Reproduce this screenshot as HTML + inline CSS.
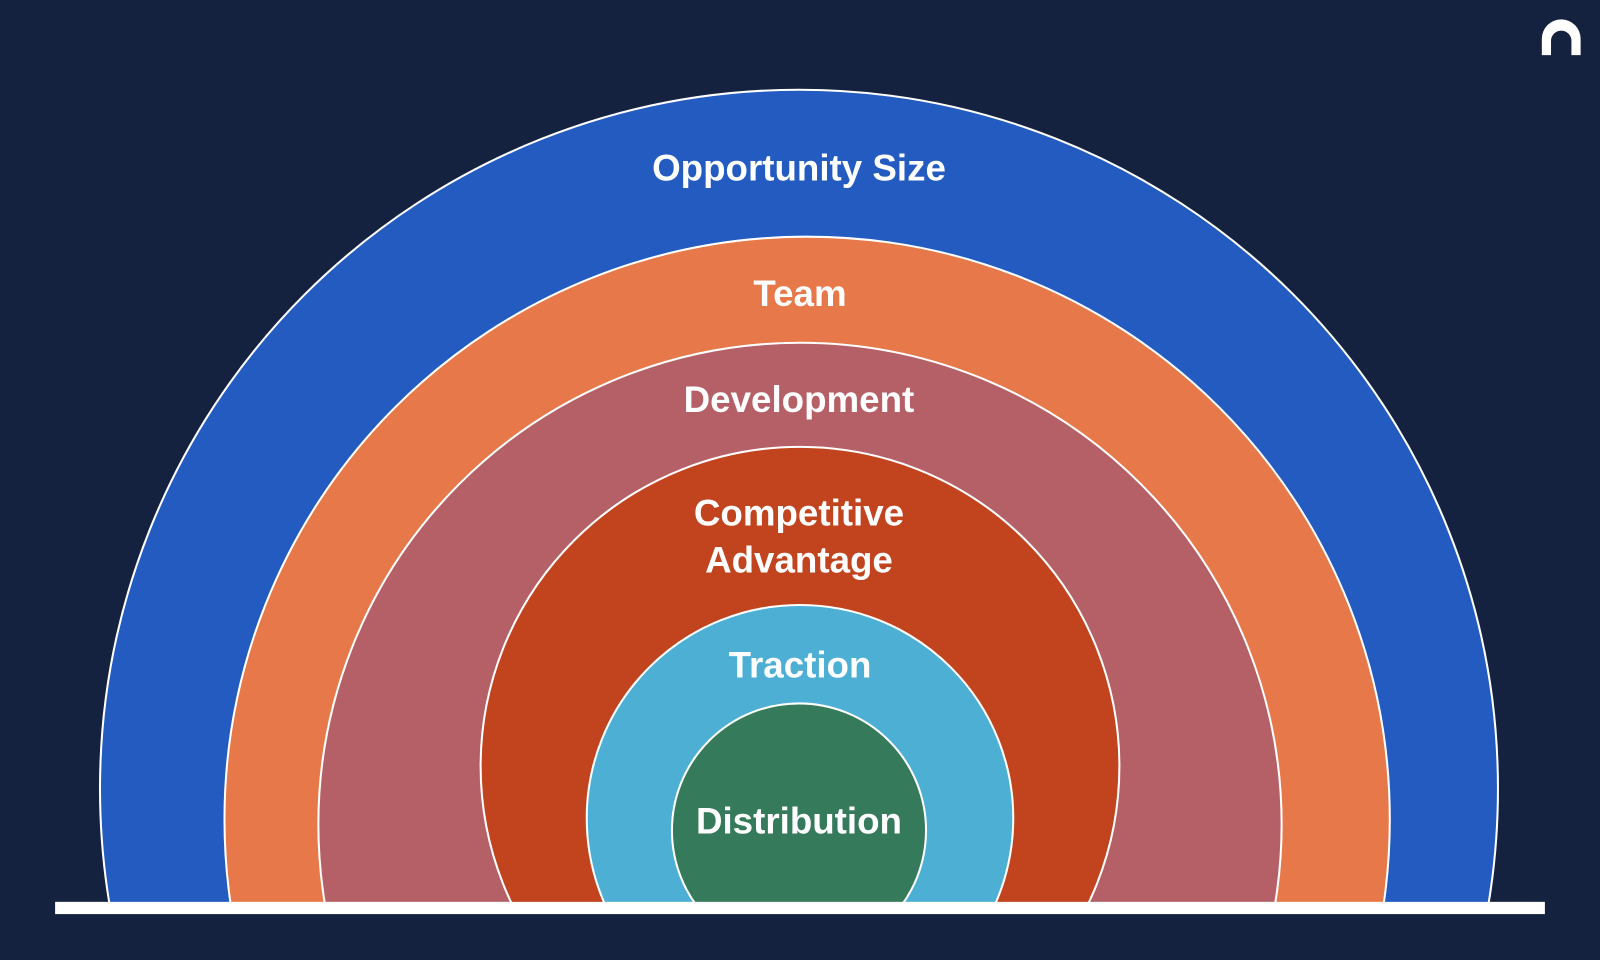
<!DOCTYPE html>
<html><head><meta charset="utf-8"><style>
html,body{margin:0;padding:0;background:#15223f;width:1600px;height:960px;overflow:hidden;}
svg{display:block}
text{font-family:"Liberation Sans",sans-serif;font-weight:bold;fill:#fff;text-anchor:middle;font-size:36px}
</style></head><body>
<svg width="1600" height="960" viewBox="0 0 1568 941" preserveAspectRatio="none" xmlns="http://www.w3.org/2000/svg">
<rect width="1568" height="941" fill="#15223f"/>
<defs><clipPath id="c"><rect x="0" y="0" width="1568" height="888"/></clipPath></defs>
<g clip-path="url(#c)" stroke="#fff" stroke-width="2">
<circle cx="783" cy="773" r="685" fill="#235bc1"/>
<circle cx="791" cy="803" r="571" fill="#e67849"/>
<circle cx="784" cy="808" r="472" fill="#b56066"/>
<circle cx="784" cy="751" r="313" fill="#c1441f"/>
<circle cx="784" cy="802" r="209" fill="#4dafd4"/>
<circle cx="783" cy="814" r="124.5" fill="#367a5c"/>
</g>
<rect x="54" y="884" width="1460" height="12" fill="#fff"/>
<text x="783" y="177">Opportunity Size</text>
<text x="784" y="300">Team</text>
<text x="783" y="404">Development</text>
<text x="783" y="515">Competitive</text>
<text x="783" y="561">Advantage</text>
<text x="784" y="664">Traction</text>
<text x="783" y="817">Distribution</text>
<path d="M1511 54 V38 A19 19 0 0 1 1549 38 V54 H1540 V40 A10 10 0 0 0 1520 40 V54 Z" fill="#fff"/>
</svg>
</body></html>
